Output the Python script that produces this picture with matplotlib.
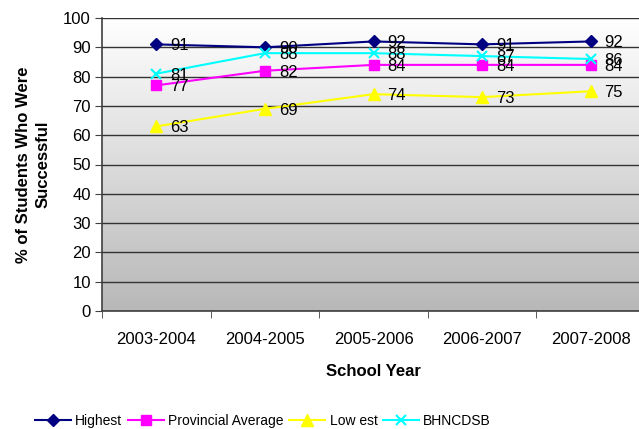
import matplotlib
matplotlib.use('Agg')
import matplotlib.pyplot as plt
import numpy as np

plt.rcParams['font.family'] = ['Liberation Sans', 'DejaVu Sans']

years = ['2003-2004', '2004-2005', '2005-2006', '2006-2007', '2007-2008']
highest = [91, 90, 92, 91, 92]
provincial = [77, 82, 84, 84, 84]
lowest = [63, 69, 74, 73, 75]
bhncdsb = [81, 88, 88, 87, 86]

fig = plt.figure(figsize=(6.39, 4.29), dpi=100)
ax = fig.add_axes([102/639, 1 - 311/429, 543/639, 293/429])

# white at top -> grey at bottom
grad = np.linspace(0, 1, 256).reshape(-1, 1)
cmap = matplotlib.colors.LinearSegmentedColormap.from_list('bg', ['#b8b8b8', '#ffffff'])
ax.imshow(grad, extent=[-0.5, 4.5, 0, 100], origin='lower', aspect='auto', cmap=cmap, zorder=0)

x = np.arange(len(years))
series = [
    (highest, '#000080', 'D', 'Highest', 6.5),
    (provincial, '#ff00ff', 's', 'Provincial Average', 6.5),
    (lowest, '#ffff00', '^', 'Low est', 8),
    (bhncdsb, '#00ffff', 'x', 'BHNCDSB', 7),
]
for vals, col, mk, lab, ms in series:
    ax.plot(x, vals, color=col, marker=mk, markersize=ms, linewidth=1.5,
            label=lab, markeredgewidth=1.5 if mk == 'x' else 1, zorder=3)
    for xi, v in zip(x, vals):
        ax.annotate(str(v), (xi, v), xytext=(10, -1), textcoords='offset points',
                    va='center', ha='left', fontsize=12, zorder=4)

ax.set_xlim(-0.5, 4.5)
ax.set_ylim(0, 100)
ax.set_yticks(range(0, 101, 10))
ax.set_xticks(x)
ax.set_xticklabels(years, fontsize=12)
ax.set_xticks(np.arange(-0.5, 4.6, 1), minor=True)
ax.tick_params(axis='x', which='major', length=0, pad=15)
ax.tick_params(axis='x', which='minor', length=5, color='#404040')
ax.tick_params(axis='y', labelsize=12, length=5, color='#404040', pad=3)
ax.grid(True, axis='y', color='#333333', linewidth=1, zorder=1)
ax.set_axisbelow(False)
for s in ['top', 'right']:
    ax.spines[s].set_visible(False)
ax.spines['left'].set_color('#404040')
ax.spines['bottom'].set_color('#404040')
ax.spines['left'].set_linewidth(1.2)
ax.spines['bottom'].set_linewidth(1.2)

ax.set_xlabel('School Year', fontsize=12, fontweight='bold', labelpad=12)
ax.set_ylabel('% of Students Who Were\nSuccessful', fontsize=12, fontweight='bold',
              labelpad=9, linespacing=1.35)

fig.legend(loc='center', bbox_to_anchor=(263/639, 1 - 421/429), ncol=4, frameon=False,
           fontsize=10, handlelength=2.6, columnspacing=0.4, handletextpad=0.3)

fig.savefig('out.png', dpi=100)
